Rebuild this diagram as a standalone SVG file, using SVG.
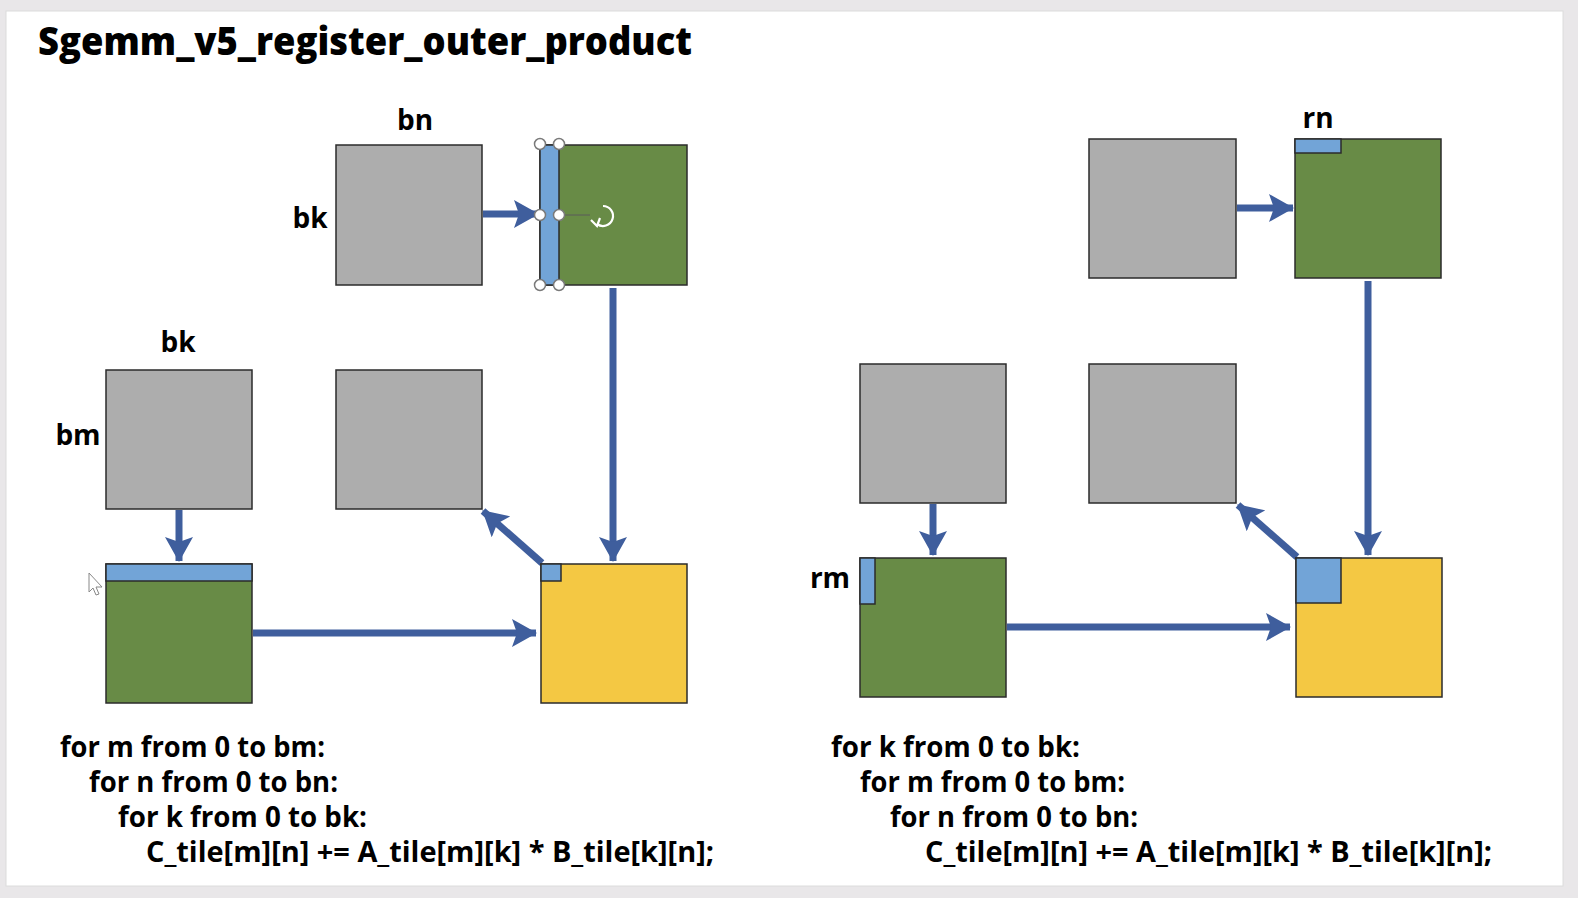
<svg xmlns="http://www.w3.org/2000/svg" width="1578" height="898" viewBox="0 0 1578 898">
<style>
  .gray{fill:#adadad;stroke:#2b2b2b;stroke-width:1.5}
  .green{fill:#688b46;stroke:#2b2b2b;stroke-width:1.5}
  .yellow{fill:#f4c843;stroke:#2b2b2b;stroke-width:1.5}
  .blue{fill:#72a4d7;stroke:#2b2b2b;stroke-width:1.5}
  .lbl{font-family:"Open Sans","Liberation Sans",sans-serif;font-weight:700;font-size:28px;fill:#000}
  .code{font-family:"Open Sans","Liberation Sans",sans-serif;font-weight:700;font-size:28px;fill:#000}
  .title{font-family:"Open Sans","Liberation Sans",sans-serif;font-weight:800;font-size:39px;fill:#000}
  .arr{stroke:#3f5e9d;stroke-width:7;fill:none;marker-end:url(#ah)}
  .handle{fill:#fff;stroke:#7a7a7a;stroke-width:1.5}
</style>
<defs>
  <marker id="ah" markerUnits="userSpaceOnUse" markerWidth="26" markerHeight="28" refX="24" refY="14" orient="auto">
    <path d="M0,0 L25,14 L0,28 L5,14 z" fill="#3f5e9d"/>
  </marker>
</defs>
<rect x="0" y="0" width="1578" height="898" fill="#e9e7e9"/>
<rect x="6" y="11" width="1557" height="875" fill="#ffffff" stroke="#dcdcdc" stroke-width="1"/>
<text class="title" x="38" y="55" textLength="654" lengthAdjust="spacingAndGlyphs">Sgemm_v5_register_outer_product</text>

<g id="connectors">
  <path class="arr" d="M483,214 L538,214"/>
  <path class="arr" d="M179,510 L179,561"/>
  <path class="arr" d="M613,288 L613,561"/>
  <path class="arr" d="M253,633 L536,633"/>
  <path class="arr" d="M542,563 L483,511"/>
  <path class="arr" d="M1237,208 L1293,208"/>
  <path class="arr" d="M933,504 L933,555"/>
  <path class="arr" d="M1368,281 L1368,555"/>
  <path class="arr" d="M1007,627 L1290,627"/>
  <path class="arr" d="M1297,557 L1238,505"/>
</g>

<g id="left-B-tile">
  <rect class="gray" x="336" y="145" width="146" height="140"/>
  <text class="lbl" x="415" y="130" text-anchor="middle">bn</text>
  <text class="lbl" x="310" y="228" text-anchor="middle">bk</text>
</g>
<g id="left-B-reg">
  <rect class="green" x="540" y="145" width="147" height="140"/>
  <rect class="blue" x="540" y="145" width="19" height="140"/>
  <line x1="559" y1="215" x2="590" y2="215" stroke="#5a5a5a" stroke-width="1"/>
  <circle class="handle" cx="540" cy="144" r="5.5"/>
  <circle class="handle" cx="559" cy="144" r="5.5"/>
  <circle class="handle" cx="540" cy="215" r="5.5"/>
  <circle class="handle" cx="559" cy="215" r="5.5"/>
  <circle class="handle" cx="540" cy="285" r="5.5"/>
  <circle class="handle" cx="559" cy="285" r="5.5"/>
  <path d="M603,206 A10,10 0 1 1 597,224" fill="none" stroke="#fff" stroke-width="2.2"/>
  <path d="M591,220 L597,226 L600,218" fill="none" stroke="#fff" stroke-width="2.2"/>
</g>
<g id="left-A-tile">
  <rect class="gray" x="106" y="370" width="146" height="139"/>
  <text class="lbl" x="178" y="352" text-anchor="middle">bk</text>
  <text class="lbl" x="78" y="445" text-anchor="middle">bm</text>
</g>
<g id="left-mid-tile">
  <rect class="gray" x="336" y="370" width="146" height="139"/>
</g>
<g id="left-A-reg">
  <rect class="green" x="106" y="564" width="146" height="139"/>
  <rect class="blue" x="106" y="564" width="146" height="17"/>
</g>
<g id="left-C">
  <rect class="yellow" x="541" y="564" width="146" height="139"/>
  <rect class="blue" x="541" y="564" width="20" height="17"/>
</g>
<g id="cursor">
  <path d="M89,573 L89,592 L93,588 L96,595 L99,594 L96,587 L102,587 z" fill="#fff" stroke="#888" stroke-width="1"/>
</g>

<g id="right-B-tile">
  <rect class="gray" x="1089" y="139" width="147" height="139"/>
</g>
<g id="right-B-reg">
  <rect class="green" x="1295" y="139" width="146" height="139"/>
  <rect class="blue" x="1295" y="139" width="46" height="14"/>
  <text class="lbl" x="1318" y="128" text-anchor="middle">rn</text>
</g>
<g id="right-A-tile">
  <rect class="gray" x="860" y="364" width="146" height="139"/>
</g>
<g id="right-mid-tile">
  <rect class="gray" x="1089" y="364" width="147" height="139"/>
</g>
<g id="right-A-reg">
  <rect class="green" x="860" y="558" width="146" height="139"/>
  <rect class="blue" x="860" y="558" width="15" height="46"/>
  <text class="lbl" x="830" y="588" text-anchor="middle">rm</text>
</g>
<g id="right-C">
  <rect class="yellow" x="1296" y="558" width="146" height="139"/>
  <rect class="blue" x="1296" y="558" width="45" height="45"/>
</g>

<g id="left-code">
  <text class="code" x="60" y="757" textLength="265" lengthAdjust="spacingAndGlyphs">for m from 0 to bm:</text>
  <text class="code" x="89" y="792" textLength="249" lengthAdjust="spacingAndGlyphs">for n from 0 to bn:</text>
  <text class="code" x="118" y="827" textLength="249" lengthAdjust="spacingAndGlyphs">for k from 0 to bk:</text>
  <text class="code" x="146" y="862" textLength="568" lengthAdjust="spacingAndGlyphs">C_tile[m][n] += A_tile[m][k] * B_tile[k][n];</text>
</g>
<g id="right-code">
  <text class="code" x="831" y="757" textLength="249" lengthAdjust="spacingAndGlyphs">for k from 0 to bk:</text>
  <text class="code" x="860" y="792" textLength="265" lengthAdjust="spacingAndGlyphs">for m from 0 to bm:</text>
  <text class="code" x="890" y="827" textLength="248" lengthAdjust="spacingAndGlyphs">for n from 0 to bn:</text>
  <text class="code" x="925" y="862" textLength="567" lengthAdjust="spacingAndGlyphs">C_tile[m][n] += A_tile[m][k] * B_tile[k][n];</text>
</g>
</svg>
